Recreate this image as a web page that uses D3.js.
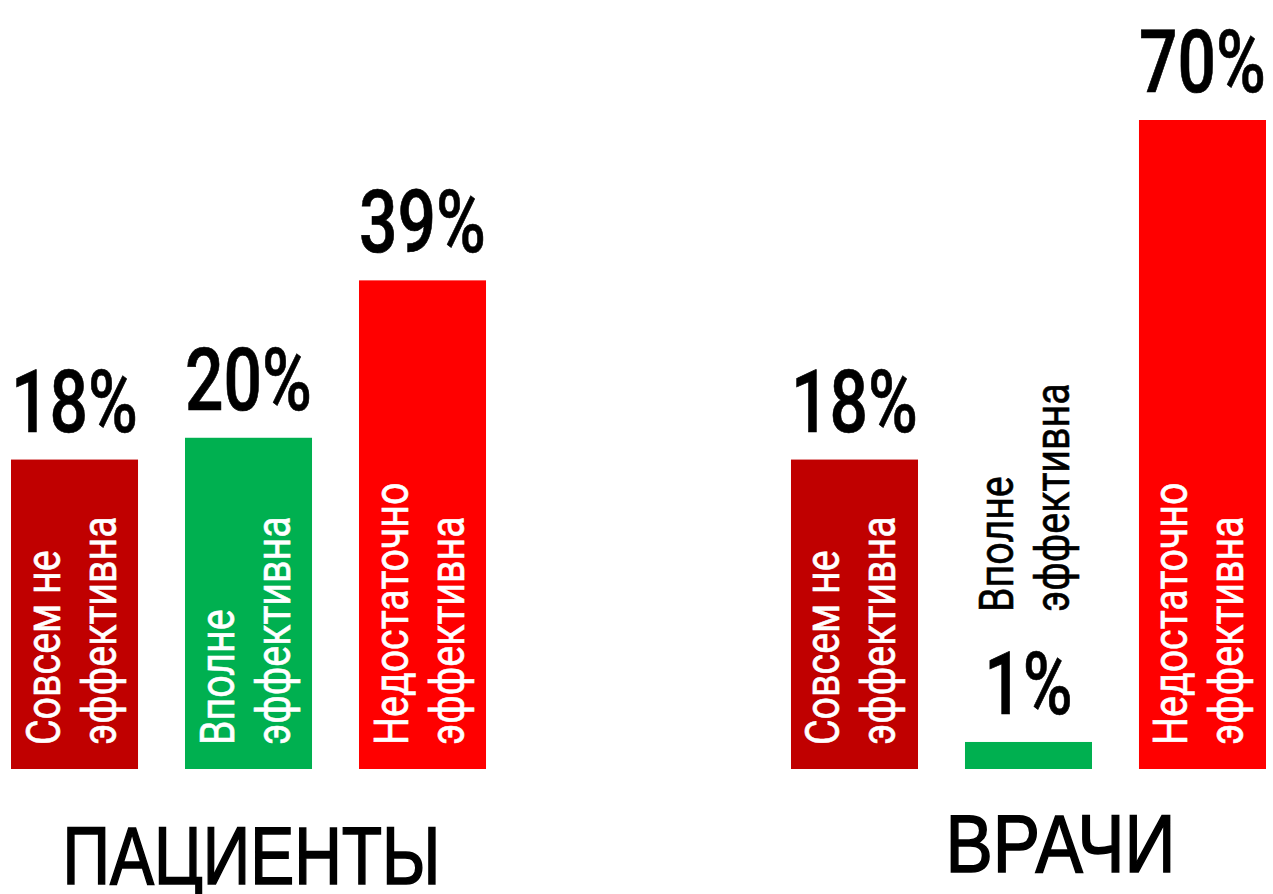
<!DOCTYPE html>
<html>
<head>
<meta charset="utf-8">
<script src="https://cdn.jsdelivr.net/npm/d3@7/dist/d3.min.js"></script>
<style>
  body { margin: 0; background: #fff; }
  svg { display: block; }
</style>
</head>
<body>
<div id="chart"></div>
<script>
// data
const groups = ["ПАЦИЕНТЫ", "ВРАЧИ"];
const categories = ["Совсем не эффективна", "Вполне эффективна", "Недостаточно эффективна"];
const categoryLines = [["Совсем не", "эффективна"], ["Вполне", "эффективна"], ["Недостаточно", "эффективна"]];
const patientValues = [18, 20, 39];
const doctorValues = [18, 1, 70];
const colors = ["#c00000", "#00b050", "#ff0000"];

const width = 1273;
const height = 894;
const baseline = 769;

// title placement per group (offset from group centre, baseline y)
const titleDx = [3, 32];
const titleY = [884, 872];
const titleWidth = [378, 230];

const rows = [];
groups.forEach((g, gi) => {
  const vals = gi === 0 ? patientValues : doctorValues;
  categories.forEach((c, ci) => rows.push({ group: g, cat: c, ci: ci, value: vals[ci] }));
});

const svg = d3.select("#chart")
  .append("svg")
  .attr("width", width)
  .attr("height", height);

const x0 = d3.scaleBand().domain(groups).range([11, 1266]).paddingInner(0.391);
const x1 = d3.scaleBand().domain(categories).range([0, x0.bandwidth()]).paddingInner(0.27);
// hand-drawn infographic: bar heights follow a soft log-like scale
const y = d3.scaleSymlog().constant(12).domain([0, 70]).range([baseline, 120]);

const bars = svg.selectAll(".bar")
  .data(rows)
  .enter()
  .append("g")
  .attr("class", "bar")
  .attr("transform", d => `translate(${x0(d.group) + x1(d.cat)}, 0)`);

bars.append("rect")
  .attr("y", d => y(d.value))
  .attr("width", x1.bandwidth())
  .attr("height", d => baseline - y(d.value))
  .style("fill", d => colors[d.ci]);

const cx = x1.bandwidth() / 2;
const numFont = "Roboto, 'DejaVu Sans', sans-serif";

// value labels
bars.append("text")
  .attr("transform", d => `translate(${cx}, ${y(d.value) - 28}) scale(0.77, 1)`)
  .attr("text-anchor", "middle")
  .style("font-family", numFont)
  .style("font-weight", 500)
  .style("font-size", "88px")
  .style("fill", "#000")
  .style("stroke", "#000")
  .style("stroke-width", 0.7)
  .text(d => d.value + "%");

// category labels, rotated, inside the bar or above the label when the bar is too short
const lineDx = [-15, 41];
bars.each(function(d) {
  const inside = baseline - y(d.value) > 120;
  const startY = inside ? baseline - 24 : y(d.value) - 28 - 62 - 40;
  const c = inside ? "#fff" : "#000";
  categoryLines[d.ci].forEach((line, li) => {
    d3.select(this).append("text")
      .attr("transform", `translate(${cx + lineDx[li]}, ${startY}) rotate(-90) scale(0.82, 1)`)
      .attr("text-anchor", "start")
      .style("font-family", numFont)
      .style("font-size", "48px")
      .style("fill", c)
      .style("stroke", c)
      .style("stroke-width", 0.6)
      .text(line);
  });
});

// group titles
svg.selectAll(".title")
  .data(groups)
  .enter()
  .append("text")
  .attr("class", "title")
  .attr("x", (g, i) => x0(g) + x0.bandwidth() / 2 + titleDx[i] - titleWidth[i] / 2)
  .attr("y", (g, i) => titleY[i])
  .attr("textLength", (g, i) => titleWidth[i])
  .attr("lengthAdjust", "spacingAndGlyphs")
  .style("font-family", "'Liberation Sans', Arial, sans-serif")
  .style("font-size", "82px")
  .style("fill", "#000")
  .style("stroke", "#000")
  .style("stroke-width", 1.6)
  .text(g => g);
</script>
</body>
</html>
